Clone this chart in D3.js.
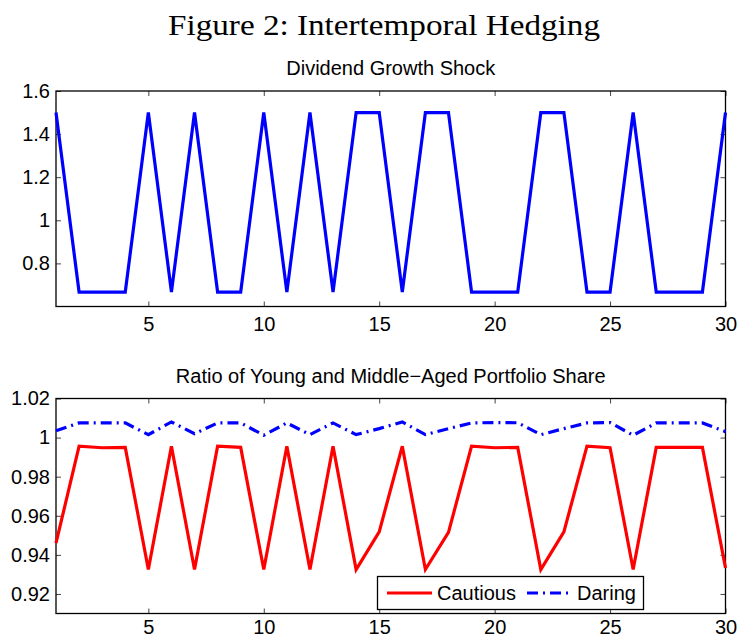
<!DOCTYPE html>
<html>
<head>
<meta charset="utf-8">
<script src="https://cdn.jsdelivr.net/npm/d3@7"></script>
<style>
  body { margin: 0; background: #fff; }
  svg { display: block; font-family: 'Liberation Sans', Arial, sans-serif; }
</style>
</head>
<body>
<svg></svg>
<script>
// data
const periods = [1,2,3,4,5,6,7,8,9,10,11,12,13,14,15,16,17,18,19,20,21,22,23,24,25,26,27,28,29,30];
const shock = [1.5,0.667,0.667,0.667,1.5,0.667,1.5,0.667,0.667,1.5,0.667,1.5,0.667,1.5,1.5,
               0.667,1.5,1.5,0.667,0.667,0.667,1.5,1.5,0.667,0.667,1.5,0.667,0.667,0.667,1.5];
const cautious = [0.946,0.9956,0.9948,0.995,0.9325,0.9956,0.9325,0.9956,0.995,0.9325,0.9956,0.9325,0.9956,0.9325,0.9518,
                  0.9956,0.9325,0.9515,0.9956,0.9948,0.995,0.9325,0.9518,0.9956,0.9948,0.9325,0.995,0.995,0.995,0.9333];
const daring = [1.0035,1.0075,1.0075,1.0075,1.0015,1.008,1.002,1.0075,1.0075,1.0012,1.0075,1.0015,1.0075,1.0015,1.0046,
                1.008,1.0015,1.0046,1.0075,1.0077,1.0076,1.0015,1.0046,1.0075,1.0077,1.0012,1.0075,1.0075,1.0075,1.003];
const xTicks = [5,10,15,20,25,30];
const topTicks = [0.8,1,1.2,1.4,1.6];
const bottomTicks = [0.92,0.94,0.96,0.98,1,1.02];
const seriesNames = ['Cautious','Daring'];

let width = 738;
let height = 640;
let left = 56;
let right = 725.5;

let svg = d3.select('svg')
    .attr('width', width)
    .attr('height', height);

let fmt = (d) => String(+d.toFixed(2));

let xScale = d3.scaleLinear().domain([1, 30]).range([left, right]);

// figure title
svg.append('text')
    .attr('x', 384)
    .attr('y', 35)
    .attr('text-anchor', 'middle')
    .attr('textLength', 432)
    .attr('lengthAdjust', 'spacingAndGlyphs')
    .style('font-family', "'Liberation Serif', 'DejaVu Serif', serif")
    .style('font-size', '30px')
    .text('Figure 2: Intertemporal Hedging');

let drawPanel = (top, bottom, yDomain, yTicks, title, titleY, xPad) => {
    let yScale = d3.scaleLinear().domain(yDomain).range([bottom, top]);
    let g = svg.append('g');

    g.append('text')
        .attr('x', (left + right) / 2)
        .attr('y', titleY)
        .attr('text-anchor', 'middle')
        .style('font-size', '20px')
        .text(title);

    // axes with inward ticks, mirrored on top and right
    g.append('g')
        .attr('transform', 'translate(0,' + bottom + ')')
        .call(d3.axisBottom(xScale).tickValues(xTicks).tickSize(-5).tickPadding(xPad).tickFormat(fmt));
    g.append('g')
        .attr('transform', 'translate(' + left + ',0)')
        .call(d3.axisLeft(yScale).tickValues(yTicks).tickSize(-5).tickPadding(6).tickFormat(fmt));
    g.append('g')
        .attr('transform', 'translate(0,' + top + ')')
        .call(d3.axisTop(xScale).tickValues(xTicks).tickSize(-5).tickFormat(''));
    g.append('g')
        .attr('transform', 'translate(' + right + ',0)')
        .call(d3.axisRight(yScale).tickValues(yTicks).tickSize(-5).tickFormat(''));

    g.selectAll('.domain').remove();
    g.selectAll('.tick line').attr('stroke', '#444');
    g.selectAll('.tick text')
        .attr('fill', '#000')
        .style('font-size', '20px')
        .style('font-family', "'Liberation Sans', Arial, sans-serif");

    g.append('rect')
        .attr('x', left)
        .attr('y', top)
        .attr('width', right - left)
        .attr('height', bottom - top)
        .attr('fill', 'none')
        .attr('stroke', '#000')
        .attr('stroke-width', 1.3);

    return {g: g, yScale: yScale};
};

let addLine = (panel, values, color, dash) => {
    let line = d3.line()
        .x((d, i) => xScale(periods[i]))
        .y((d) => panel.yScale(d));
    panel.g.append('path')
        .datum(values)
        .attr('d', line)
        .attr('fill', 'none')
        .attr('stroke', color)
        .attr('stroke-width', 3.2)
        .attr('stroke-linejoin', 'miter')
        .attr('stroke-dasharray', dash);
};

let topPanel = drawPanel(91, 306.5, [0.6, 1.6], topTicks, 'Dividend Growth Shock', 75, 10);
addLine(topPanel, shock, '#0000ff', null);

let bottomPanel = drawPanel(398.5, 613.5, [0.91, 1.02], bottomTicks, 'Ratio of Young and Middle\u2212Aged Portfolio Share', 383, 6);
addLine(bottomPanel, cautious, '#ff0000', null);
addLine(bottomPanel, daring, '#0000ff', '11,5,2,5');

// legend
let legend = svg.append('g');
legend.append('rect')
    .attr('x', 377.5)
    .attr('y', 576.5)
    .attr('width', 266)
    .attr('height', 33)
    .attr('fill', '#fff')
    .attr('stroke', '#000')
    .attr('stroke-width', 1.3);

let legendItems = [
    {name: seriesNames[0], color: '#ff0000', dash: null, x: 387},
    {name: seriesNames[1], color: '#0000ff', dash: '11,5,2,5', x: 527}
];
legendItems.forEach((item) => {
    legend.append('line')
        .attr('x1', item.x)
        .attr('x2', item.x + 45)
        .attr('y1', 593)
        .attr('y2', 593)
        .attr('stroke', item.color)
        .attr('stroke-width', 3.2)
        .attr('stroke-dasharray', item.dash);
    legend.append('text')
        .attr('x', item.x + 50)
        .attr('y', 600)
        .style('font-size', '20px')
        .text(item.name);
});
</script>
</body>
</html>
